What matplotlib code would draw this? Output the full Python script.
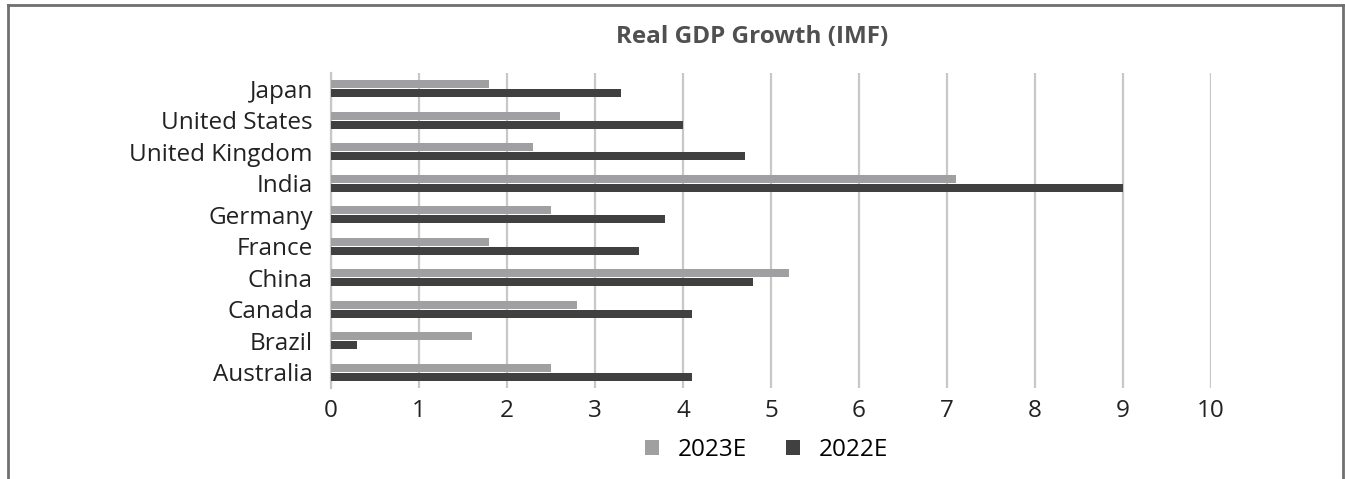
import matplotlib
matplotlib.use("Agg")
import matplotlib.pyplot as plt
from matplotlib.lines import Line2D
import numpy as np

# -------------------------
# DATA
# -------------------------
countries = ["Australia", "Brazil", "Canada", "China", "France",
             "Germany", "India", "United Kingdom", "United States", "Japan"]
growth_2023 = [2.5, 1.6, 2.8, 5.2, 1.8, 2.5, 7.1, 2.3, 2.6, 1.8]
growth_2022 = [4.1, 0.3, 4.1, 4.8, 3.5, 3.8, 9.0, 4.7, 4.0, 3.3]
x_ticks = list(range(0, 11))

plt.rcParams["font.family"] = ["Open Sans", "DejaVu Sans"]

fig = plt.figure(figsize=(13.45, 4.79), dpi=100)
ax = fig.add_axes([0.2461, 0.19, 0.6543, 0.6576])

y = np.arange(len(countries))
h = 0.25
gap = 0.015
ax.barh(y + h / 2 + gap, growth_2023, height=h, color="#a0a0a3",
        linewidth=0, label="2023E", zorder=3)
ax.barh(y - h / 2 - gap, growth_2022, height=h, color="#404040",
        linewidth=0, label="2022E", zorder=3)

ax.set_xlim(0, 10)
ax.set_ylim(-0.5, len(countries) - 0.5)
ax.set_xticks(x_ticks)
ax.set_yticks(y)
ax.set_yticklabels(countries)
ax.tick_params(axis="both", length=0, labelsize=17.5, colors="#222222")
ax.tick_params(axis="y", pad=13)
ax.tick_params(axis="x", pad=8)
ax.grid(axis="x", color="#c8c8c8", linewidth=1.6, zorder=0)
for s in ["top", "right", "bottom"]:
    ax.spines[s].set_visible(False)
ax.spines["left"].set_color("#c8c8c8")
ax.spines["left"].set_linewidth(1.6)

fig.text(752 / 1345, 1 - 37 / 479, "Real GDP Growth (IMF)", ha="center", va="center",
         fontsize=17.5, fontweight="bold", color="#505050")

ax.legend(loc="center", bbox_to_anchor=(767 / 1345, 1 - 450 / 479),
          bbox_transform=fig.transFigure,
          ncol=2, frameon=False, fontsize=17.5, handlelength=0.55, handleheight=0.55,
          columnspacing=1.6, handletextpad=0.8)

# outer frame (left, top, right)
fc = "#707070"
fig.add_artist(Line2D([8 / 1345, 8 / 1345], [0, 1 - 5 / 479], color=fc, lw=2))
fig.add_artist(Line2D([8 / 1345, 1343 / 1345], [1 - 5 / 479, 1 - 5 / 479], color=fc, lw=2))
fig.add_artist(Line2D([1343 / 1345, 1343 / 1345], [0, 1 - 5 / 479], color=fc, lw=2))

fig.savefig("out.png", dpi=100)
